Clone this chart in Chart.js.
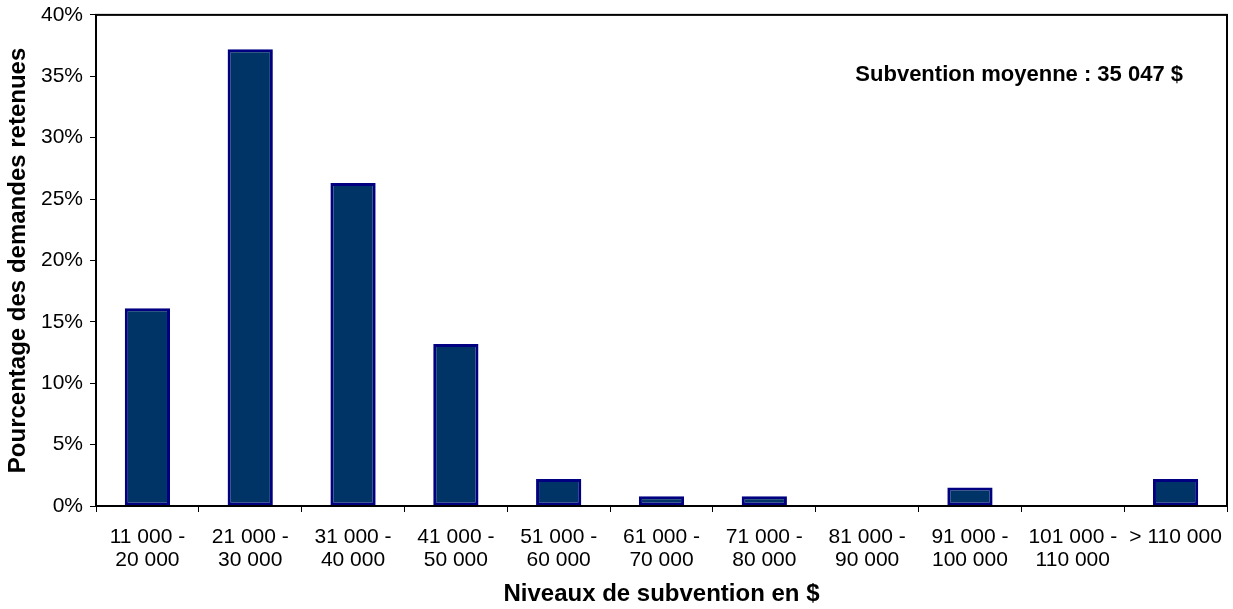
<!DOCTYPE html>
<html>
<head>
<meta charset="utf-8">
<script src="https://cdn.jsdelivr.net/npm/chart.js@4/dist/chart.umd.min.js"></script>
<style>
html,body{margin:0;padding:0;background:#fff;}
#c{display:block;}
</style>
</head>
<body>
<canvas id="c" width="1233" height="609"></canvas>
<script>
const categories = [
  ['11 000 -','20 000'],
  ['21 000 -','30 000'],
  ['31 000 -','40 000'],
  ['41 000 -','50 000'],
  ['51 000 -','60 000'],
  ['61 000 -','70 000'],
  ['71 000 -','80 000'],
  ['81 000 -','90 000'],
  ['91 000 -','100 000'],
  ['101 000 -','110 000'],
  '> 110 000'
];
const percentages = [16.1, 37.2, 26.3, 13.2, 2.2, 0.8, 0.8, 0, 1.5, 0, 2.2];
const yTitle = 'Pourcentage des demandes retenues';
const xTitle = 'Niveaux de subvention en $';
const note = 'Subvention moyenne : 35 047 $';

const FONT = 'Liberation Sans, Arial, sans-serif';

const framePlugin = {
  id: 'frame',
  afterDraw(chart) {
    const {ctx, chartArea: a} = chart;
    ctx.save();
    ctx.strokeStyle = '#000';
    ctx.lineWidth = 2;
    ctx.strokeRect(a.left, a.top, a.right - a.left, a.bottom - a.top);
    ctx.fillStyle = '#000';
    ctx.font = 'bold 22px ' + FONT;
    ctx.textAlign = 'right';
    ctx.textBaseline = 'middle';
    ctx.fillText(note, a.right - 44, a.top + 60);
    ctx.restore();
  }
};

new Chart(document.getElementById('c'), {
  type: 'bar',
  data: {
    labels: categories,
    datasets: [{
      data: percentages,
      backgroundColor: '#003366',
      borderColor: '#000080',
      borderWidth: 3,
      borderSkipped: false,
      categoryPercentage: 1,
      barPercentage: 0.44
    }]
  },
  options: {
    responsive: false,
    animation: false,
    layout: {padding: {top: 0, right: 6, left: 0, bottom: 0}},
    plugins: {legend: {display: false}, tooltip: {enabled: false}},
    scales: {
      x: {
        grid: {display: true, drawOnChartArea: false, drawTicks: true, tickLength: 6, color: '#000', offset: true},
        border: {display: true, color: '#000', width: 2},
        ticks: {color: '#000', font: {family: FONT, size: 21, lineHeight: 1.1}, padding: 14, maxRotation: 0, autoSkip: false},
        title: {display: true, text: xTitle, color: '#000', font: {family: FONT, size: 24, weight: 'bold'}, padding: {top: 12, bottom: 0}},
        afterFit(s) { s.height = 103; s.paddingLeft = 0; s.paddingRight = 0; }
      },
      y: {
        min: 0, max: 40,
        grid: {display: true, drawOnChartArea: false, drawTicks: true, tickLength: 6, color: '#000'},
        border: {display: true, color: '#000', width: 2},
        ticks: {stepSize: 5, color: '#000', font: {family: FONT, size: 21, lineHeight: 0.75}, padding: 7, callback: v => v + '%'},
        title: {display: true, text: yTitle, color: '#000', font: {family: FONT, size: 24, weight: 'bold'}, padding: {top: 4, bottom: 8}},
        afterFit(s) { s.width = 96; }
      }
    }
  },
  plugins: [framePlugin]
});
</script>
</body>
</html>
